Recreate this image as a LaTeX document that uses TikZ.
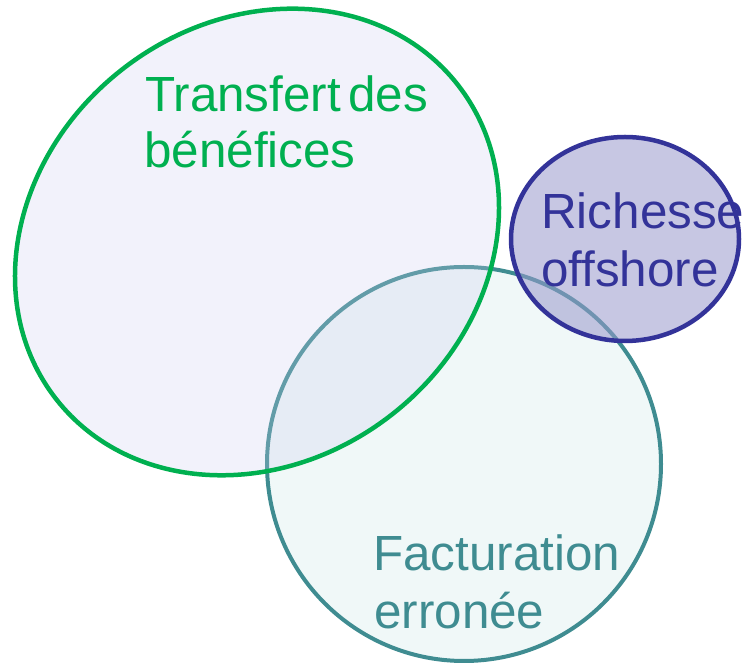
\documentclass[tikz,border=0pt]{standalone}
\usepackage{fontspec}
\setmainfont{Liberation Sans}
\definecolor{gstroke}{HTML}{00B050}
\definecolor{gfill}{HTML}{CCCCEE}
\definecolor{tstroke}{HTML}{3F8C91}
\definecolor{tfill}{HTML}{F0F8F8}
\definecolor{pstroke}{HTML}{333399}
\definecolor{pfill}{HTML}{9999CC}
\tikzset{
  lbl/.style={inner sep=0pt, anchor=base west, font=\fontsize{49.4}{56}\selectfont},
}
\begin{document}
\begin{tikzpicture}[x=1pt,y=1pt]
\useasboundingbox (0,0) rectangle (744,663);
% teal circle
\draw[tstroke, fill=tfill, line width=4pt] (464,199) circle[radius=197];
% green ellipse
\draw[gstroke, line width=4.5pt, fill=gfill, fill opacity=0.25] (257,421) ellipse[x radius=255, y radius=219, rotate=38];
% purple ellipse
\draw[pstroke, line width=4.5pt, fill=pfill, fill opacity=0.55] (625,424) ellipse[x radius=114, y radius=102];
% labels
\node[lbl, text=gstroke] (t1) at (145,551) {Transfert\hspace{0.15em}des};
\node[lbl, text=gstroke] (t2) at (144,495) {bénéfices};
\node[lbl, text=pstroke] (r1) at (541,434) {Richesse};
\node[lbl, text=pstroke] (r2) at (541,376) {offshore};
\node[lbl, text=tstroke] (f1) at (373,92) {Facturation};
\node[lbl, text=tstroke] (f2) at (374,34) {erronée};
\end{tikzpicture}
\end{document}
